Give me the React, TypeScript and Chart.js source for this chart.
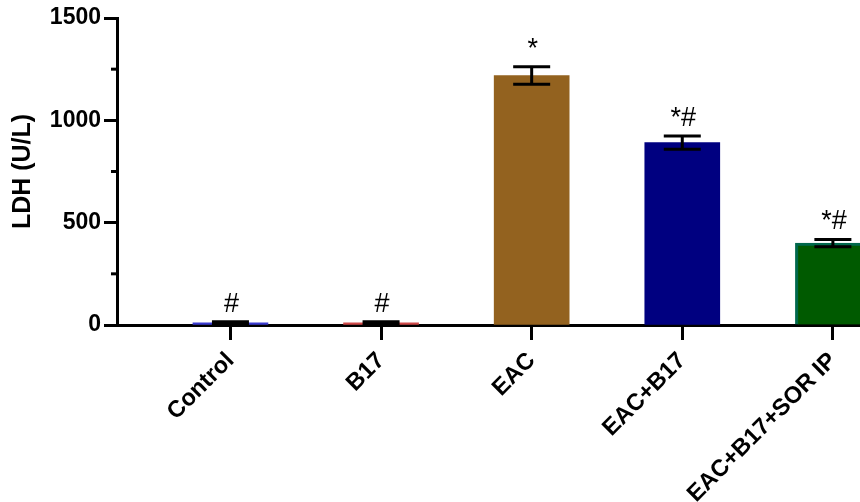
import React, { useEffect, useRef } from "react";
import { Chart, registerables } from "chart.js";

Chart.register(...registerables);

const categories = ["Control", "B17", "EAC", "EAC+B17", "EAC+B17+SOR IP"];
const means = [10, 10, 1219, 891, 400];
const errors = [6, 6, 43, 32, 18];
const marks = ["#", "#", "*", "*#", "*#"];
const fillColors = ["#3b3bd0", "#d04a4a", "#93621f", "#000080", "#005a00"];
const edgeColors = ["#3b3bd0", "#d04a4a", "#93621f", "#000080", "#00684c"];
const edgeWidths = [0, 0, 0, 0, 3];
const yMajorTicks = [0, 500, 1000, 1500];
const yMinorTicks = [250, 750, 1250];

const FONT = "'Liberation Sans', Arial, Helvetica, sans-serif";

export default function App() {
  const ref = useRef<HTMLCanvasElement | null>(null);

  useEffect(() => {
    document.body.style.margin = "0";
    const canvas = ref.current;
    if (!canvas) return;

    const extras = {
      id: "extras",
      afterDatasetsDraw(chart: any) {
        const ctx = chart.ctx;
        const xs = chart.scales.x;
        const ys = chart.scales.y;
        ctx.save();
        ctx.strokeStyle = "#000";
        ctx.fillStyle = "#000";
        ctx.lineCap = "butt";
        means.forEach((m, i) => {
          const cx = xs.getPixelForValue(i);
          const top = ys.getPixelForValue(m + errors[i]);
          const bot = ys.getPixelForValue(Math.max(0, m - errors[i]));
          ctx.lineWidth = 3;
          ctx.beginPath();
          ctx.moveTo(cx, top);
          ctx.lineTo(cx, bot);
          ctx.stroke();
          ctx.beginPath();
          ctx.moveTo(cx - 18.5, top);
          ctx.lineTo(cx + 18.5, top);
          ctx.moveTo(cx - 18.5, bot);
          ctx.lineTo(cx + 18.5, bot);
          ctx.stroke();
          ctx.font = `27px ${FONT}`;
          ctx.textAlign = "center";
          ctx.textBaseline = "alphabetic";
          ctx.fillText(marks[i], cx + 1, top - 10);
        });
        ctx.restore();
      },
      afterDraw(chart: any) {
        const ctx = chart.ctx;
        const ys = chart.scales.y;
        const left = chart.chartArea.left;
        ctx.save();
        ctx.strokeStyle = "#000";
        ctx.lineWidth = 3;
        yMinorTicks.forEach((v) => {
          const py = ys.getPixelForValue(v);
          ctx.beginPath();
          ctx.moveTo(left - 6, py);
          ctx.lineTo(left, py);
          ctx.stroke();
        });
        ctx.restore();
      },
    };

    const chart = new Chart(canvas, {
      type: "bar",
      data: {
        datasets: [
          {
            data: means.map((m, i) => ({ x: i, y: m })),
            backgroundColor: fillColors,
            borderColor: edgeColors,
            borderWidth: edgeWidths,
            borderSkipped: "bottom",
            barThickness: 75,
            clip: false as any,
          },
        ],
      },
      options: {
        responsive: false,
        animation: false,
        devicePixelRatio: 1,
        layout: { padding: { top: 18, right: 0, left: 0, bottom: 0 } },
        plugins: {
          legend: { display: false },
          tooltip: { enabled: false },
        },
        scales: {
          x: {
            type: "linear",
            offset: false,
            min: -0.7533,
            max: 4.18,
            afterBuildTicks: (s: any) => {
              s.ticks = categories.map((_, i) => ({ value: i }));
            },
            afterFit: (s: any) => {
              s.height = 177;
            },
            ticks: {
              callback: (v: any) => categories[Math.round(Number(v))] ?? "",
              minRotation: 45,
              maxRotation: 45,
              autoSkip: false,
              color: "#000",
              padding: 7,
              font: { family: FONT, size: 23.5, weight: "bold" },
            },
            grid: {
              offset: false,
              drawOnChartArea: false,
              drawTicks: true,
              tickLength: 15,
              tickWidth: 3,
              tickColor: "#000",
            },
            border: { color: "#000", width: 3 },
          },
          y: {
            type: "linear",
            min: 0,
            max: 1500,
            afterBuildTicks: (s: any) => {
              s.ticks = yMajorTicks.map((v) => ({ value: v }));
            },
            afterFit: (s: any) => {
              s.width = 117;
            },
            ticks: {
              callback: (v: any) => String(v),
              color: "#000",
              padding: 3,
              font: { family: FONT, size: 23, weight: "bold" },
            },
            grid: {
              drawOnChartArea: false,
              drawTicks: true,
              tickLength: 13,
              tickWidth: 3,
              tickColor: "#000",
            },
            border: { color: "#000", width: 3 },
            title: {
              display: true,
              text: "LDH (U/L)",
              color: "#000",
              font: { family: FONT, size: 25, weight: "bold" },
              padding: { top: 8, bottom: 0 },
            },
          },
        },
      },
      plugins: [extras],
    });

    return () => {
      chart.destroy();
    };
  }, []);

  return (
    <div style={{ width: 860, height: 502, overflow: "hidden" }}>
      <canvas ref={ref} width={860} height={502} style={{ display: "block" }} />
    </div>
  );
}
